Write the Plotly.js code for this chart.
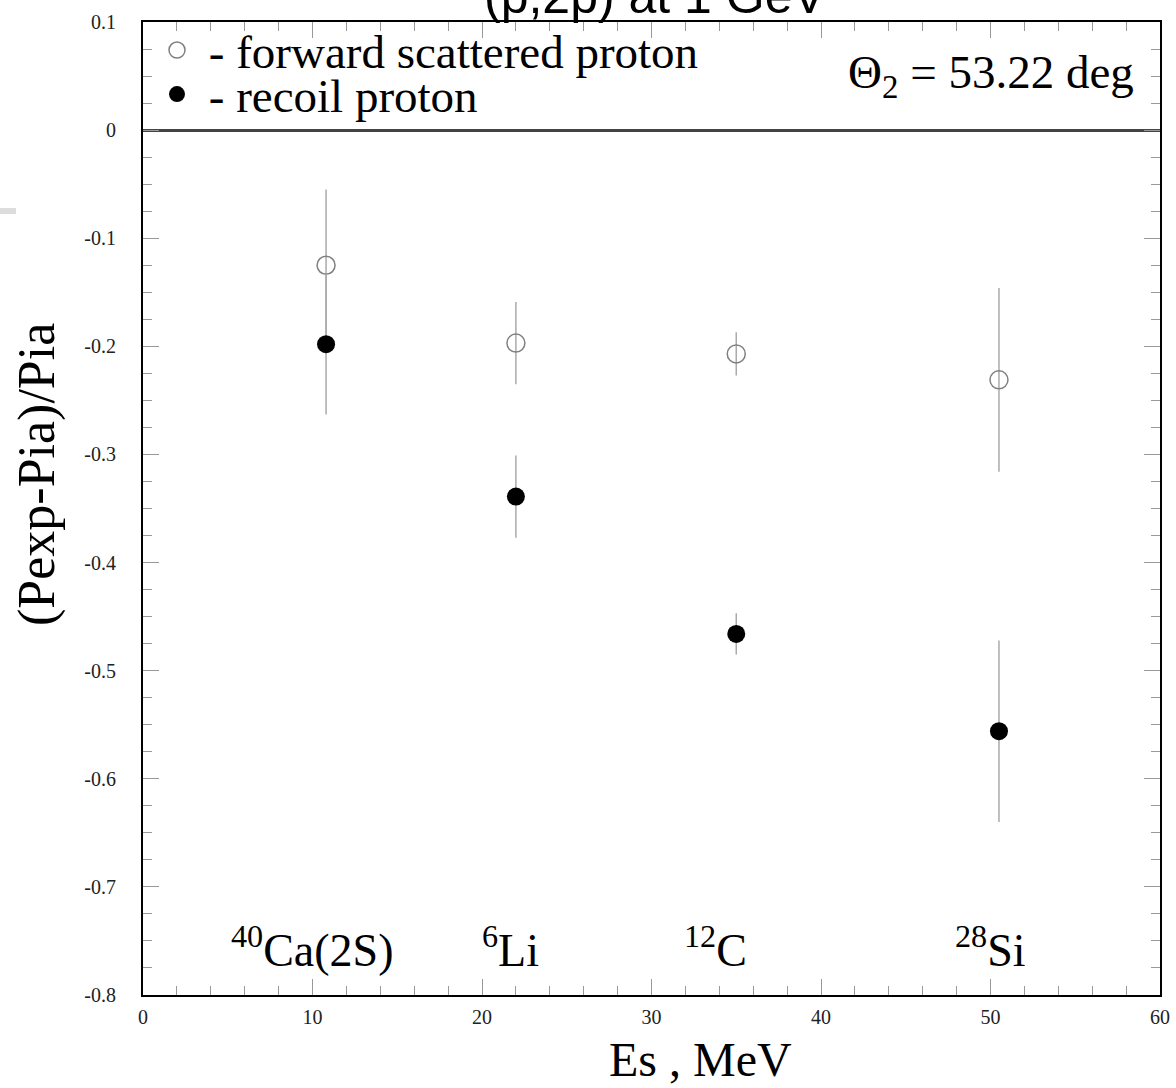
<!DOCTYPE html>
<html>
<head>
<meta charset="utf-8">
<script src="https://cdn.plot.ly/plotly-3.0.1.min.js"></script>
<style>html,body{margin:0;padding:0;background:#fff;}#chart{width:1176px;height:1088px;}</style>
</head>
<body>
<div id="chart"></div>
<script>
// Data
const nuclei = ["<sup>40</sup>Ca(2S)", "<sup>6</sup>Li", "<sup>12</sup>C", "<sup>28</sup>Si"];
const es = [10.8, 22.0, 35.0, 50.5];
const forwardVal = [-0.125, -0.197, -0.207, -0.231];
const forwardErr = [0.070, 0.038, 0.020, 0.085];
const recoilVal = [-0.198, -0.339, -0.466, -0.556];
const recoilErr = [0.065, 0.038, 0.019, 0.084];
const labelX = [10.0, 21.7, 33.8, 50.0];
const labelY = -0.756;
const xTickVals = [0, 10, 20, 30, 40, 50, 60];
const xTickText = ["0", "10", "20", "30", "40", "50", "60"];
const yTickVals = [0.1, 0, -0.1, -0.2, -0.3, -0.4, -0.5, -0.6, -0.7, -0.8];
const yTickText = ["0.1", "0", "-0.1", "-0.2", "-0.3", "-0.4", "-0.5", "-0.6", "-0.7", "-0.8"];
const titleText = "(p,2p) at 1 GeV";
const angleText = "Θ<sub>2</sub> = 53.22 deg";
const xTitle = "Es , MeV";
const yTitle = "(Pexp-Pia)/Pia";
const seriesNames = ["\u00a0- forward scattered proton", "\u00a0- recoil proton"];

const serif = "Liberation Serif, Times New Roman, serif";
const W = 1017, H = 973, L = 143, T = 22;
const px = v => (v - L) / W;
const py = v => 1 - (v - T) / H;

const traces = [
  {
    x: es, y: forwardVal, type: "scatter", mode: "markers",
    name: seriesNames[0], legend: "legend",
    error_y: {type: "data", array: forwardErr, visible: true, color: "#aaa", thickness: 1.5, width: 0},
    marker: {symbol: "circle-open", size: 18, color: "#808080", line: {width: 1.5, color: "#808080"}}
  },
  {
    x: es, y: recoilVal, type: "scatter", mode: "markers",
    name: seriesNames[1], legend: "legend2",
    error_y: {type: "data", array: recoilErr, visible: true, color: "#aaa", thickness: 1.5, width: 0},
    marker: {symbol: "circle", size: 18, color: "#000"}
  }
];

const annotations = nuclei.map((t, i) => ({
  x: labelX[i], y: labelY, xref: "x", yref: "y", text: t, showarrow: false,
  font: {family: serif, size: 46, color: "#000"}, xanchor: "center", yanchor: "middle"
}));
annotations.push({
  x: 1, y: 1, xref: "paper", yref: "paper", text: angleText, showarrow: false,
  xanchor: "right", yanchor: "top", xshift: -24, yshift: -22,
  font: {family: serif, size: 47, color: "#000"}
});
annotations.push({
  x: px(655), y: 1, xref: "paper", yref: "paper", text: titleText, showarrow: false,
  xanchor: "center", yanchor: "bottom", yshift: -4,
  font: {family: "Liberation Sans, Arial, sans-serif", size: 50, color: "#000"}
});
annotations.push({
  x: px(700), y: py(1059), xref: "paper", yref: "paper", text: xTitle, showarrow: false,
  xanchor: "center", yanchor: "middle",
  font: {family: serif, size: 48, color: "#000"}
});
annotations.push({
  x: px(37), y: py(475), xref: "paper", yref: "paper", text: yTitle, showarrow: false,
  xanchor: "center", yanchor: "middle", textangle: -90,
  font: {family: serif, size: 52, color: "#000"}
});

const legendBase = {
  xanchor: "left", yanchor: "top", x: px(157),
  font: {family: serif, size: 47, color: "#000"},
  bgcolor: "rgba(0,0,0,0)", itemwidth: 30
};

const layout = {
  width: 1176, height: 1088,
  margin: {l: 143, r: 16, t: 22, b: 93},
  paper_bgcolor: "#fff", plot_bgcolor: "#fff",
  showlegend: true,
  legend: Object.assign({}, legendBase, {y: py(13)}),
  legend2: Object.assign({}, legendBase, {y: py(57)}),
  xaxis: {
    range: [0, 60], tickmode: "array", tickvals: xTickVals, ticktext: xTickText,
    ticks: "inside", ticklen: 16, tickwidth: 1, tickcolor: "#999",
    minor: {dtick: 2, tick0: 0, ticks: "inside", ticklen: 9, tickcolor: "#999", tickwidth: 1},
    showline: true, linecolor: "#000", linewidth: 2, mirror: "ticks",
    showgrid: false, zeroline: false,
    tickfont: {family: serif, size: 20, color: "#222"},
    ticklabelstandoff: 3
  },
  yaxis: {
    range: [-0.8, 0.1], tickmode: "array", tickvals: yTickVals, ticktext: yTickText,
    ticks: "inside", ticklen: 16, tickwidth: 1, tickcolor: "#999",
    minor: {dtick: 0.025, tick0: 0, ticks: "inside", ticklen: 9, tickcolor: "#999", tickwidth: 1},
    showline: true, linecolor: "#000", linewidth: 2, mirror: "ticks",
    showgrid: false, zeroline: true, zerolinecolor: "#444", zerolinewidth: 3,
    tickfont: {family: serif, size: 20, color: "#222"},
    ticklabelstandoff: 21
  },
  annotations: annotations,
  shapes: [{
    type: "rect", xref: "paper", yref: "paper",
    x0: px(0), x1: px(16), y0: py(214), y1: py(208),
    fillcolor: "#ddd", line: {width: 0}
  }]
};

Plotly.newPlot("chart", traces, layout, {staticPlot: true});
</script>
</body>
</html>
